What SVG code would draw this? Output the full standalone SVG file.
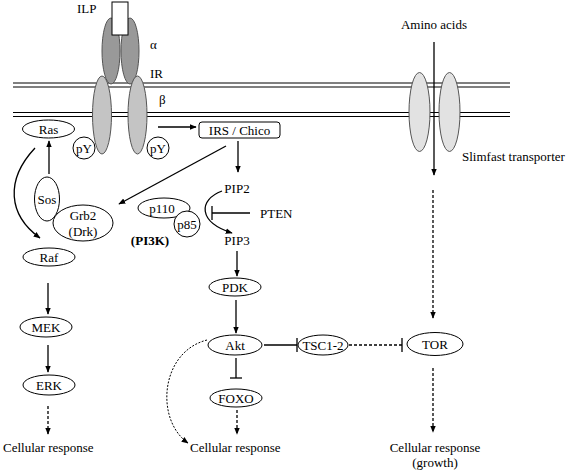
<svg xmlns="http://www.w3.org/2000/svg" width="570" height="470" viewBox="0 0 570 470" font-family="'Liberation Serif','Times New Roman','DejaVu Serif',serif">
<style>
text{font-family:"Liberation Serif","Times New Roman","DejaVu Serif",serif;font-size:13px;fill:#000}
.c{text-anchor:middle}
.n{fill:#fff;stroke:#000;stroke-width:1}
.l{stroke:#000;stroke-width:1.3;fill:none}
.d{stroke:#000;stroke-width:1.3;fill:none;stroke-dasharray:3,2}
.dt{stroke:#000;stroke-width:1;fill:none;stroke-dasharray:2,1.5}
.m{stroke:#000;stroke-width:1;fill:none}
</style>
<defs>
<marker id="a" viewBox="0 0 10 10" refX="9" refY="5" markerWidth="7" markerHeight="7" orient="auto" markerUnits="userSpaceOnUse"><path d="M0,1 L10,5 L0,9 Z" fill="#000"/></marker>
</defs>
<rect width="570" height="470" fill="#fff"/>
<g id="membrane">
<line class="m" x1="13" y1="83" x2="510" y2="83"/>
<line class="m" x1="13" y1="87" x2="510" y2="87"/>
<line class="m" x1="13" y1="112.5" x2="510" y2="112.5"/>
<line class="m" x1="13" y1="116.5" x2="510" y2="116.5"/>
</g>
<g id="receptor">
<ellipse cx="111" cy="51" rx="9" ry="33" fill="#999" stroke="#555" stroke-width="1"/>
<ellipse cx="130" cy="51" rx="9" ry="33" fill="#999" stroke="#555" stroke-width="1"/>
<rect x="112" y="2" width="16" height="33" fill="#fff" stroke="#000" stroke-width="1"/>
<ellipse cx="102" cy="115" rx="9.5" ry="39" fill="#c4c4c4" stroke="#555" stroke-width="1"/>
<ellipse cx="137.5" cy="115" rx="9.5" ry="39" fill="#c4c4c4" stroke="#555" stroke-width="1"/>
<text x="77" y="13">ILP</text>
<text x="150" y="49">α</text>
<text x="150" y="78">IR</text>
<text x="159" y="104">β</text>
</g>
<g id="pY1"><circle class="n" cx="84" cy="148" r="11"/><text class="c" x="84" y="152.5">pY</text></g>
<g id="pY2"><circle class="n" cx="158" cy="148" r="11"/><text class="c" x="158" y="152.5">pY</text></g>
<g id="slimfast">
<ellipse cx="419.5" cy="112" rx="10.5" ry="39.5" fill="#e2e2e2" stroke="#555" stroke-width="1"/>
<ellipse cx="449.5" cy="112" rx="10.5" ry="39.5" fill="#e2e2e2" stroke="#555" stroke-width="1"/>
<text x="462" y="161">Slimfast transporter</text>
</g>
<g id="aminoacids"><text class="c" x="434" y="29">Amino acids</text></g>
<g id="ras"><ellipse class="n" cx="48.5" cy="129" rx="26" ry="9"/><text class="c" x="48.5" y="133.5">Ras</text></g>
<g id="irs"><rect class="n" x="199" y="122" width="81" height="16" rx="3"/><text class="c" x="239.5" y="134.5">IRS / Chico</text></g>
<g id="sos"><ellipse class="n" cx="47" cy="199" rx="12.5" ry="22"/><text class="c" x="47" y="203.5">Sos</text></g>
<g id="grb2"><ellipse class="n" cx="83" cy="223" rx="30" ry="18"/><text class="c" x="83" y="219.5">Grb2</text><text class="c" x="83" y="236">(Drk)</text></g>
<g id="pi3k">
<ellipse class="n" cx="164" cy="208" rx="26" ry="10"/><text class="c" x="162" y="212.5">p110</text>
<circle class="n" cx="187" cy="224" r="13"/><text class="c" x="187" y="228.5">p85</text>
<text class="c" x="150" y="244.5" font-weight="bold">(PI3K)</text>
</g>
<g id="pip2"><text class="c" x="237" y="192.5">PIP2</text></g>
<g id="pten"><text x="260" y="217.5">PTEN</text></g>
<g id="pip3"><text class="c" x="237" y="244.5">PIP3</text></g>
<g id="raf"><ellipse class="n" cx="49" cy="257" rx="26" ry="9"/><text class="c" x="49" y="261.5">Raf</text></g>
<g id="pdk"><ellipse class="n" cx="235" cy="287" rx="26" ry="9"/><text class="c" x="235" y="291.5">PDK</text></g>
<g id="mek"><ellipse class="n" cx="46" cy="327" rx="26" ry="10"/><text class="c" x="46" y="331.5">MEK</text></g>
<g id="akt"><ellipse class="n" cx="235" cy="345" rx="27" ry="10"/><text class="c" x="235" y="349.5">Akt</text></g>
<g id="tsc"><ellipse class="n" cx="323" cy="345" rx="25" ry="10"/><text class="c" x="323" y="349.5">TSC1-2</text></g>
<g id="tor"><ellipse class="n" cx="435" cy="344" rx="28" ry="11.5"/><text class="c" x="435" y="348.5">TOR</text></g>
<g id="erk"><ellipse class="n" cx="49" cy="385" rx="26" ry="10"/><text class="c" x="49" y="389.5">ERK</text></g>
<g id="foxo"><ellipse class="n" cx="236" cy="398" rx="26" ry="9"/><text class="c" x="236" y="402.5">FOXO</text></g>
<g id="resp1"><text x="3" y="451.5">Cellular response</text></g>
<g id="resp2"><text x="190" y="451.5">Cellular response</text></g>
<g id="resp3"><text class="c" x="435" y="451.5">Cellular response</text><text class="c" x="435" y="467">(growth)</text></g>
<g id="connectors">
<line class="l" x1="158" y1="127" x2="196" y2="127" marker-end="url(#a)"/>
<line class="l" x1="49" y1="174" x2="49" y2="141" marker-end="url(#a)"/>
<path class="l" d="M35,148 C5,180 8,215 40,238" marker-end="url(#a)"/>
<line class="l" x1="226" y1="146" x2="119" y2="204" marker-end="url(#a)"/>
<line class="l" x1="238" y1="141" x2="238" y2="172" marker-end="url(#a)"/>
<line class="l" x1="250" y1="213" x2="212" y2="213"/>
<line class="l" x1="212" y1="206" x2="212" y2="220"/>
<path class="l" d="M222,191 C198,200 198,222 232,233" marker-end="url(#a)"/>
<line class="l" x1="237" y1="251" x2="237" y2="276" marker-end="url(#a)"/>
<line class="l" x1="236" y1="300" x2="236" y2="333" marker-end="url(#a)"/>
<line class="l" x1="264" y1="345" x2="297" y2="345"/>
<line class="l" x1="297" y1="338" x2="297" y2="352"/>
<line class="d" x1="349" y1="345" x2="402" y2="345"/>
<line class="l" x1="402" y1="338" x2="402" y2="352"/>
<line class="l" x1="236" y1="358" x2="236" y2="378"/>
<line class="l" x1="230" y1="378" x2="242" y2="378"/>
<line class="d" x1="237" y1="410" x2="237" y2="434" marker-end="url(#a)"/>
<path class="dt" d="M207,340 C160,352 155,420 188,443" marker-end="url(#a)"/>
<line class="l" x1="48" y1="283" x2="48" y2="314" marker-end="url(#a)"/>
<line class="l" x1="48" y1="345" x2="48" y2="372" marker-end="url(#a)"/>
<line class="d" x1="48" y1="406" x2="48" y2="434" marker-end="url(#a)"/>
<line class="l" x1="434" y1="42" x2="434" y2="175" marker-end="url(#a)"/>
<line class="d" x1="433" y1="190" x2="433" y2="318" marker-end="url(#a)"/>
<line class="d" x1="433" y1="368" x2="433" y2="432" marker-end="url(#a)"/>
</g>
</svg>
